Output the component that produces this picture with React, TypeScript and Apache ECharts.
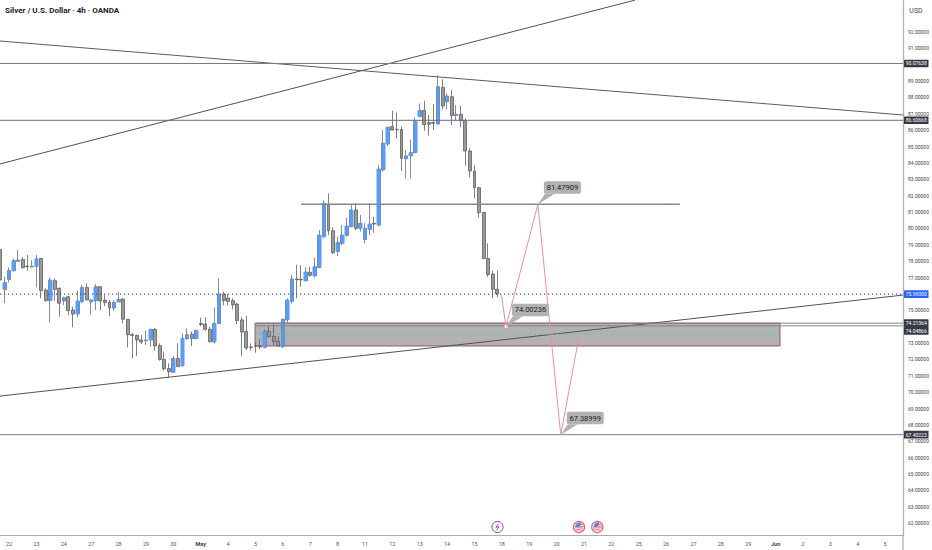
import React, { useEffect, useRef } from "react";
import * as echarts from "echarts";

// open, close, low, high of each 4h bar, oldest first
const aprilBars = [
  [78.72,76.85,76.55,79.05],[76.28,76.69,75.43,77.05],[76.89,77.42,76.69,77.62],[77.42,78.03,77.36,78.17],
  [77.99,78.07,77.97,78.68],[78.11,77.60,77.54,78.24],[77.70,77.67,77.42,78.38],[77.64,77.70,77.62,78.07],
  [77.67,78.15,76.40,78.38],[78.17,76.20,75.73,78.20],[76.24,75.59,75.53,76.34],[75.59,76.85,74.24,77.01],
  [76.81,76.28,75.59,76.95],[76.34,75.43,74.61,76.40],[75.57,75.77,75.32,75.83],[75.83,74.98,74.69,75.87],
  [75.02,74.77,73.96,75.22],[74.77,75.57,74.57,76.20],[75.53,76.40,75.43,76.55],[76.40,75.63,75.63,76.65],
  [75.51,75.63,74.73,75.67],[75.59,76.44,75.02,76.61],[76.44,75.57,75.02,76.48],[75.61,75.47,75.26,75.93],
  [75.49,75.14,74.65,75.63],[75.14,75.47,74.98,75.63],[75.51,75.67,75.47,76.14],[75.69,74.45,74.20,75.73],
  [74.45,73.51,72.74,74.47],[73.51,73.47,72.05,73.63],[73.47,73.19,72.21,73.50],[73.19,73.06,72.94,73.49],
  [73.14,73.19,72.88,73.76],[73.19,73.84,72.78,73.87],[73.84,72.82,72.53,73.90],[72.84,72.00,71.92,72.98],
  [72.00,71.43,71.31,72.47],[71.45,71.25,70.90,71.76],[71.21,72.06,71.19,72.21],[72.06,71.56,71.54,72.98],
  [71.60,73.29,71.56,73.59],[73.27,73.51,73.19,73.90],[73.53,73.27,72.82,73.70],[73.27,73.76,73.23,73.84],
];
const mayBars = [
  [74.20,74.14,74.04,74.55],[74.16,73.84,73.76,74.57],[73.84,73.09,73.02,74.00],[73.06,74.20,72.98,75.18],
  [74.20,75.99,74.16,76.95],[75.99,75.59,75.30,76.14],[75.75,75.55,75.30,75.99],[75.59,75.34,75.06,75.73],
  [75.38,74.37,74.16,75.47],[74.41,73.67,72.21,74.57],[73.71,72.70,72.58,74.65],[72.76,72.72,72.53,72.98],
  [72.80,72.78,72.41,72.98],[72.80,72.76,72.62,73.23],[72.74,73.71,72.68,73.84],[73.71,73.39,73.35,74.04],
  [73.41,73.09,72.88,74.16],[73.11,72.82,72.78,73.43],[72.78,74.45,72.68,74.51],[74.41,75.63,74.24,75.73],
  [75.55,76.91,75.43,77.16],[76.91,76.87,75.73,77.79],[76.89,76.86,76.44,77.77],[76.81,77.34,76.75,77.62],
  [77.32,77.14,77.06,77.66],[77.10,77.66,77.01,78.23],[77.62,79.60,77.56,79.90],[79.50,81.53,79.40,81.70],
  [81.49,79.86,79.60,82.14],[79.86,78.52,78.44,80.07],[78.60,79.13,78.32,79.50],[79.09,79.60,78.99,80.21],
  [79.58,80.15,79.50,80.68],[80.11,81.13,80.07,81.49],[81.13,80.01,79.90,81.53],[80.01,80.31,79.80,80.82],
  [79.33,80.01,79.09,80.31],[79.94,80.27,79.60,81.57],[80.31,80.27,79.74,80.72],[80.21,83.63,80.11,83.88],
  [83.57,85.20,83.47,86.01],[85.16,86.18,85.04,86.22],[86.22,86.01,86.00,87.19],[86.05,86.03,85.50,87.07],
  [86.05,84.28,83.51,86.22],[84.26,84.43,83.06,84.79],[84.43,84.63,83.06,85.44],[84.63,86.56,84.59,86.79],
  [86.83,87.20,86.79,87.64],[87.20,86.34,85.97,87.79],[86.46,86.36,85.67,86.93],[86.46,86.42,86.01,87.60],
  [86.38,88.66,86.36,89.37],[88.62,87.48,87.28,89.11],[87.74,88.09,87.28,88.25],[88.05,86.89,86.32,88.46],
  [86.91,86.97,86.62,87.54],[86.97,86.58,86.18,87.48],[86.58,84.73,83.84,86.73],[84.73,83.51,83.12,84.89],
  [83.51,82.49,81.84,83.86],[82.49,80.97,80.66,82.55],[80.98,78.17,78.12,81.02],[78.17,77.18,77.06,79.09],
  [77.22,76.28,75.73,77.42],[76.28,76.00,75.79,77.42],
];

const xTickLabels = ["22","23","24","27","28","29","30","May","4","5","6","7","8","11","12","13","14","15","18","19","20","21","22","25","26","27","28","29","Jun","2","3","4","5"];
const xTickBars = xTickLabels.map((_, i) => 2 + i * 6);
const yTickValues = [92,91,89,88,87,86,85,84,83,82,81,80,79,78,77,75,73,72,71,70,69,68,67,66,65,64,63,62];

const X_MIN = 0;
const X_MAX = 197.92;
const Y_MIN = 61.243;
const Y_MAX = 93.955;

// trend lines: [bar, price] pairs
const steepRise = [[0, 83.94], [139.2, 93.95]];
const longFall = [[0, 91.45], [X_MAX, 86.93]];
const supportRise = [[0, 69.76], [X_MAX, 75.93]];
const level90 = [[0, 90.07638], [X_MAX, 90.07638]];
const level86 = [[0, 86.60668], [X_MAX, 86.60668]];
const level81 = [[66, 81.47909], [149, 81.47909]];
const level74a = [[55.9, 74.21364], [X_MAX, 74.21364]];
const level74b = [[55.9, 74.04866], [X_MAX, 74.04866]];
const level67 = [[0, 67.40223], [X_MAX, 67.40223]];
const lastPrice = [[0, 75.99], [X_MAX, 75.99]];
const zoneBars = [55.9, 170.96];
const zonePrices = [74.21364, 72.82];
const zoneMid = [[55.9, 73.55], [170.96, 73.55]];

// projected path
const pathBars = [109.9, 110.9, 117.9, 122.9, 126.8];
const pathPrices = [75.93, 74.00236, 81.47909, 67.38999, 73.23];

const calloutLabels = ["81.47909", "74.00236", "67.38999"];
const calloutBars = [117.9, 110.9, 122.9];
const calloutPrices = [81.47909, 74.00236, 67.38999];

const tagPrices = [90.07638, 86.60668, 75.99, 74.21364, 74.04866, 67.40223];
const tagTexts = ["90.07638", "86.60668", "75.99000", "74.21364", "74.04866", "67.40223"];
const tagColors = ["#363a45", "#363a45", "#2962ff", "#363a45", "#363a45", "#363a45"];
const tagNudge = [0, 0, 0, 0, 5, 0];

const FONT = "Roboto, 'Liberation Sans', sans-serif";
const LINE = "#5f626c";
const PINK = "#ea8fa3";

const drawLine = (data: number[][], color = LINE, width = 1, type: any = "solid", z = 3) => ({
  type: "line",
  data,
  symbol: "none",
  silent: true,
  z,
  lineStyle: { color, width, type },
});

function flagIcon(cx: number, cy: number) {
  return {
    type: "group",
    x: cx,
    y: cy,
    silent: true,
    children: [
      { type: "circle", shape: { cx: 0, cy: 0, r: 5.6 }, style: { fill: "#fff", stroke: "#ef5f6b", lineWidth: 1.2 } },
      { type: "rect", shape: { x: -4.2, y: 0.4, width: 8.4, height: 1 }, style: { fill: "#ef5f6b" } },
      { type: "rect", shape: { x: -3.4, y: 2.4, width: 6.8, height: 1 }, style: { fill: "#ef5f6b" } },
      { type: "sector", shape: { cx: 0.6, cy: 0, r: 4.6, r0: 0, startAngle: Math.PI, endAngle: Math.PI * 1.62 }, style: { fill: "#4a90d9" } },
      { type: "rect", shape: { x: 1, y: -2.9, width: 3, height: 0.9 }, style: { fill: "#ef5f6b" } },
      { type: "rect", shape: { x: 1, y: -1.2, width: 3.6, height: 0.9 }, style: { fill: "#ef5f6b" } },
    ],
  };
}

export default function App() {
  const ref = useRef<HTMLDivElement>(null);
  useEffect(() => {
    const chart = echarts.init(ref.current!, null, { renderer: "svg" });
    const rows = [...aprilBars, ...mayBars].map((b, i) => [i, ...b]);
    const forecast = pathBars.map((x, i) => {
      const item: any = { value: [x, pathPrices[i]], symbol: "none" };
      if (i === 1) {
        item.symbol = "circle";
        item.symbolSize = 4;
        item.itemStyle = { color: "#fff", borderColor: PINK, borderWidth: 1 };
      }
      return item;
    });

    chart.setOption({
      animation: false,
      backgroundColor: "#ffffff",
      textStyle: { fontFamily: FONT },
      grid: { left: 0, top: 0, width: 903, height: 535.5 },
      xAxis: {
        type: "value",
        min: X_MIN,
        max: X_MAX,
        splitLine: { show: false },
        axisTick: { show: false },
        axisLine: { show: true, onZero: false, lineStyle: { color: "#a9a9a9", width: 1.2 } },
        axisLabel: {
          customValues: xTickBars,
          fontSize: 5.5,
          color: "#555",
          margin: 5,
          showMinLabel: true,
          showMaxLabel: true,
          formatter: (v: number) => {
            const t = xTickLabels[Math.round((v - 2) / 6)];
            return t === "May" || t === "Jun" ? `{b|${t}}` : t;
          },
          rich: { b: { fontSize: 5.5, fontWeight: "bold", color: "#444" } },
        },
      },
      yAxis: {
        type: "value",
        position: "right",
        min: Y_MIN,
        max: Y_MAX,
        splitLine: { show: false },
        axisTick: { show: false },
        axisLine: { show: true, onZero: false, lineStyle: { color: "#b0b0b0", width: 1.3 } },
        axisLabel: {
          customValues: yTickValues,
          fontSize: 5,
          color: "#444",
          margin: 5,
          formatter: (v: number) => v.toFixed(5),
        },
      },
      graphic: [
        { type: "text", left: 5, top: 6, style: { text: "Silver / U.S. Dollar · 4h · OANDA", fill: "#1f2229", font: `bold 8px ${FONT}` } },
        { type: "text", x: 916, y: 11, style: { text: "USD", fill: "#444", align: "center", verticalAlign: "middle", font: `7px ${FONT}` } },
        { type: "line", shape: { x1: 903, y1: 535, x2: 903, y2: 550 }, style: { stroke: "#b0b0b0", lineWidth: 1.3 } },
        {
          type: "group",
          x: 497.5,
          y: 527,
          silent: true,
          children: [
            { type: "circle", shape: { cx: 0, cy: 0, r: 5.6 }, style: { fill: "#fff", stroke: "#9c3fb8", lineWidth: 1 } },
            { type: "polyline", shape: { points: [[1, -3.4], [-1.6, 0.4], [1.6, -0.4], [-1, 3.4]] }, style: { fill: "none", stroke: "#9c3fb8", lineWidth: 0.9 } },
          ],
        },
        flagIcon(579, 527),
        flagIcon(597.3, 527),
      ],
      series: [
        {
          type: "line",
          data: [],
          symbol: "none",
          silent: true,
          markArea: {
            silent: true,
            itemStyle: { color: "#b2b2b2", borderColor: "#a0506c", borderWidth: 1 },
            data: [[{ coord: [zoneBars[0], zonePrices[0]] }, { coord: [zoneBars[1], zonePrices[1]] }]],
          },
        },
        {
          type: "candlestick",
          data: rows,
          barWidth: 3.4,
          silent: true,
          z: 2,
          itemStyle: { color: "#5b9cf6", color0: "#9a9a9a", borderColor: "#6f6f6f", borderColor0: "#5f5f5f", borderWidth: 0.8 },
        },
        {
          type: "candlestick",
          data: rows,
          barWidth: 4.2,
          silent: true,
          z: 2,
          itemStyle: { color: "#5b9cf6", color0: "rgba(0,0,0,0)", borderColor: "rgba(0,0,0,0)", borderColor0: "rgba(0,0,0,0)", borderWidth: 0 },
        },
        drawLine(steepRise, "#4f525c"),
        drawLine(longFall, "#5a5d67"),
        drawLine(supportRise, "#4f525c"),
        drawLine(level90, "#777a84"),
        drawLine(level86, "#6a6d77"),
        drawLine(level81, "#85888f", 1.3),
        drawLine(level74a, "#858585"),
        drawLine(level74b, "#858585"),
        drawLine(level67, "#777a84"),
        drawLine(zoneMid, "#57c7a8", 1.1, [2, 2.5], 4),
        drawLine(lastPrice, "#3f5296", 1.2, [1.2, 2.8]),
        {
          type: "line",
          data: forecast,
          symbol: "none",
          showAllSymbol: true,
          silent: true,
          z: 5,
          lineStyle: { color: PINK, width: 1 },
        },
        {
          type: "custom",
          silent: true,
          z: 5,
          data: [[pathBars[4], pathPrices[4]]],
          encode: { x: 0, y: 1 },
          renderItem: (_: any, api: any) => {
            const pt = api.coord([api.value(0), api.value(1)]);
            return {
              type: "polyline",
              shape: { points: [[pt[0] - 3.4, pt[1] + 2], [pt[0], pt[1]], [pt[0] + 2.4, pt[1] + 3.4]] },
              style: { fill: "none", stroke: PINK, lineWidth: 1 },
            };
          },
        },
        {
          type: "custom",
          silent: true,
          z: 6,
          data: calloutBars.map((x, i) => [x, calloutPrices[i]]),
          encode: { x: 0, y: 1 },
          renderItem: (params: any, api: any) => {
            const pt = api.coord([api.value(0), api.value(1)]);
            const bx = pt[0] + 6;
            const by = pt[1] - 23;
            const w = 37;
            const h = 12.5;
            return {
              type: "group",
              children: [
                { type: "polygon", shape: { points: [pt, [bx + 1, by + h], [bx + 11, by + h]] }, style: { fill: "#b2b2b2" } },
                { type: "rect", shape: { x: bx, y: by, width: w, height: h, r: 2 }, style: { fill: "#b2b2b2" } },
                {
                  type: "text",
                  x: bx + w / 2,
                  y: by + h / 2,
                  style: { text: calloutLabels[params.dataIndex], fill: "#222", align: "center", verticalAlign: "middle", font: `400 7.5px ${FONT}` },
                },
              ],
            };
          },
        },
        {
          type: "custom",
          silent: true,
          z: 7,
          data: tagPrices.map((p) => [X_MAX, p]),
          encode: { x: 0, y: 1 },
          renderItem: (params: any, api: any) => {
            const pt = api.coord([api.value(0), api.value(1)]);
            const i = params.dataIndex;
            const y = pt[1] + tagNudge[i];
            return {
              type: "group",
              children: [
                { type: "rect", shape: { x: pt[0] + 1, y: y - 3.8, width: 24.5, height: 7.6, r: 0.5 }, style: { fill: tagColors[i] } },
                {
                  type: "text",
                  x: pt[0] + 13.2,
                  y,
                  style: { text: tagTexts[i], fill: "#fff", align: "center", verticalAlign: "middle", font: `5px ${FONT}` },
                },
              ],
            };
          },
        },
      ],
    });
    return () => chart.dispose();
  }, []);
  return <div ref={ref} style={{ position: "absolute", left: 0, top: 0, width: 932, height: 550 }} />;
}
